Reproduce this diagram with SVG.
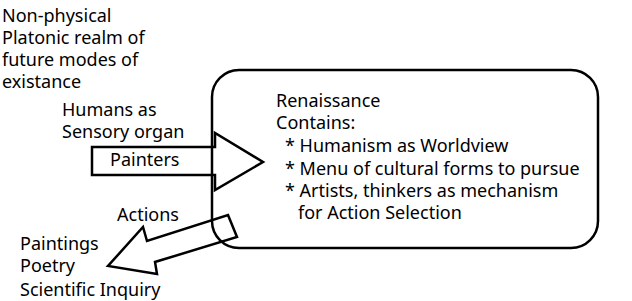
<svg xmlns="http://www.w3.org/2000/svg" width="632" height="301" viewBox="0 0 632 301">
<style>
text{font-family:"Noto Sans","Open Sans","DejaVu Sans",sans-serif;font-size:18px;fill:#000}
.ln{fill:none;stroke:#000;stroke-width:2.5;stroke-linejoin:miter}
</style>
<rect width="632" height="301" fill="#fff"/>
<g id="realm">
<text x="2" y="22">Non-physical</text>
<text x="2" y="44">Platonic realm of</text>
<text x="2" y="66">future modes of</text>
<text x="2" y="88">existance</text>
</g>
<g id="humans">
<text x="62" y="116">Humans as</text>
<text x="62" y="138">Sensory organ</text>
</g>
<g id="renaissance">
<rect class="ln" x="212" y="70" width="386" height="178" rx="27" ry="27"/>
<text x="276" y="107">Renaissance</text>
<text x="276" y="129">Contains:</text>
<text x="285" y="152">* Humanism as Worldview</text>
<text x="285" y="175">* Menu of cultural forms to pursue</text>
<text x="285" y="197">* Artists, thinkers as mechanism</text>
<text x="298" y="219">for Action Selection</text>
</g>
<g id="outputs">
<text x="20" y="250">Paintings</text>
<text x="20" y="272">Poetry</text>
<text x="20" y="296">Scientific Inquiry</text>
</g>
<g id="connectors">
<g id="painters">
<polygon class="ln" points="92,147 215,147 215,133 263,162 215,190 215,175 92,175"/>
<text x="110" y="166">Painters</text>
</g>
<g id="actions">
<polygon class="ln" points="228,215 237,237 155,262 157,274 108,266 143,227 147,241"/>
<text x="117" y="221">Actions</text>
</g>
</g>
</svg>
